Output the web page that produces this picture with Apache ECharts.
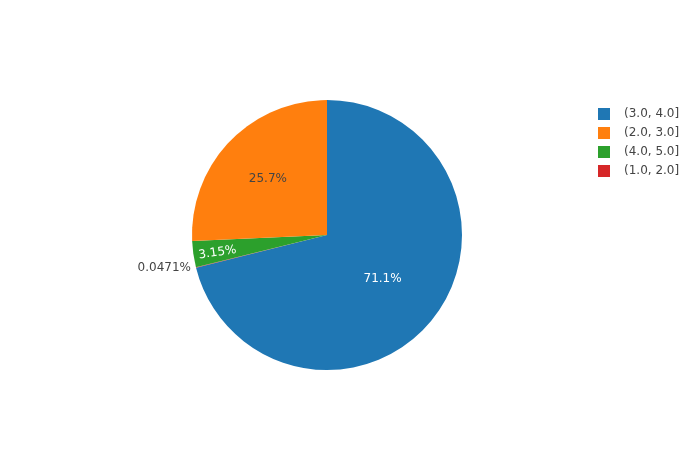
<!DOCTYPE html>
<html>
<head>
<meta charset="utf-8">
<script src="https://cdn.jsdelivr.net/npm/echarts@6/dist/echarts.min.js"></script>
<style>html,body{margin:0;padding:0;background:#fff}#c{width:700px;height:450px}</style>
</head>
<body>
<div id="c"></div>
<script>
// Slice order around the pie (clockwise from 12 o'clock)
var categories = ['(3.0, 4.0]', '(1.0, 2.0]', '(4.0, 5.0]', '(2.0, 3.0]'];
var values = [71.1, 0.0471, 3.15, 25.7];
var percentLabels = ['71.1%', '0.0471%', '3.15%', '25.7%'];
// Legend order
var legendOrder = ['(3.0, 4.0]', '(2.0, 3.0]', '(4.0, 5.0]', '(1.0, 2.0]'];

var colors = {'(3.0, 4.0]': '#1f77b4', '(2.0, 3.0]': '#ff7f0e', '(4.0, 5.0]': '#2ca02c', '(1.0, 2.0]': '#d62728'};
var labelStyle = {
  '(3.0, 4.0]': {position: 'inside', color: '#fff', radial: 1.0, rotate: 0, nudgeY: 0},
  '(2.0, 3.0]': {position: 'inside', color: '#444', radial: 1.16, rotate: 0, nudgeY: 0},
  '(4.0, 5.0]': {position: 'inside', color: '#fff', radial: 1.58, rotate: 'radial', nudgeY: -4},
  '(1.0, 2.0]': {position: 'outside', color: '#444', radial: 1.0, rotate: 0, nudgeY: 0}
};

var FONT = '"DejaVu Sans", Verdana, sans-serif';
var cx = 327, cy = 235, R = 135;
var chart = echarts.init(document.getElementById('c'), null, {renderer: 'canvas'});

var data = categories.map(function (c, i) {
  var s = labelStyle[c];
  return {
    name: c,
    value: values[i],
    itemStyle: {color: colors[c]},
    label: {
      show: true,
      position: s.position,
      color: s.color,
      rotate: s.rotate,
      formatter: percentLabels[i],
      fontSize: 12,
      fontFamily: FONT
    },
    labelLine: {show: false, length: 0, length2: 0}
  };
});

chart.setOption({
  animation: false,
  backgroundColor: '#fff',
  textStyle: {fontFamily: FONT},
  legend: {
    orient: 'vertical',
    left: 598,
    top: 108,
    padding: 0,
    itemWidth: 12,
    itemHeight: 12,
    itemGap: 7,
    icon: 'rect',
    data: legendOrder,
    textStyle: {color: '#444', fontSize: 12, lineHeight: 12, fontFamily: FONT, padding: [0, 0, 0, 9]}
  },
  series: [{
    type: 'pie',
    center: [cx, cy],
    radius: [0, R],
    startAngle: 90,
    clockwise: true,
    minAngle: 0,
    avoidLabelOverlap: false,
    emphasis: {disabled: true},
    itemStyle: {borderWidth: 0},
    data: data,
    labelLayout: function (p) {
      var s = labelStyle[categories[p.dataIndex]];
      if (s.position !== 'inside' || s.radial === 1) return {};
      var lx = p.labelRect.x + p.labelRect.width / 2;
      var ly = p.labelRect.y + p.labelRect.height / 2;
      return {dx: (lx - cx) * (s.radial - 1), dy: (ly - cy) * (s.radial - 1) + s.nudgeY};
    }
  }]
});
</script>
</body>
</html>
